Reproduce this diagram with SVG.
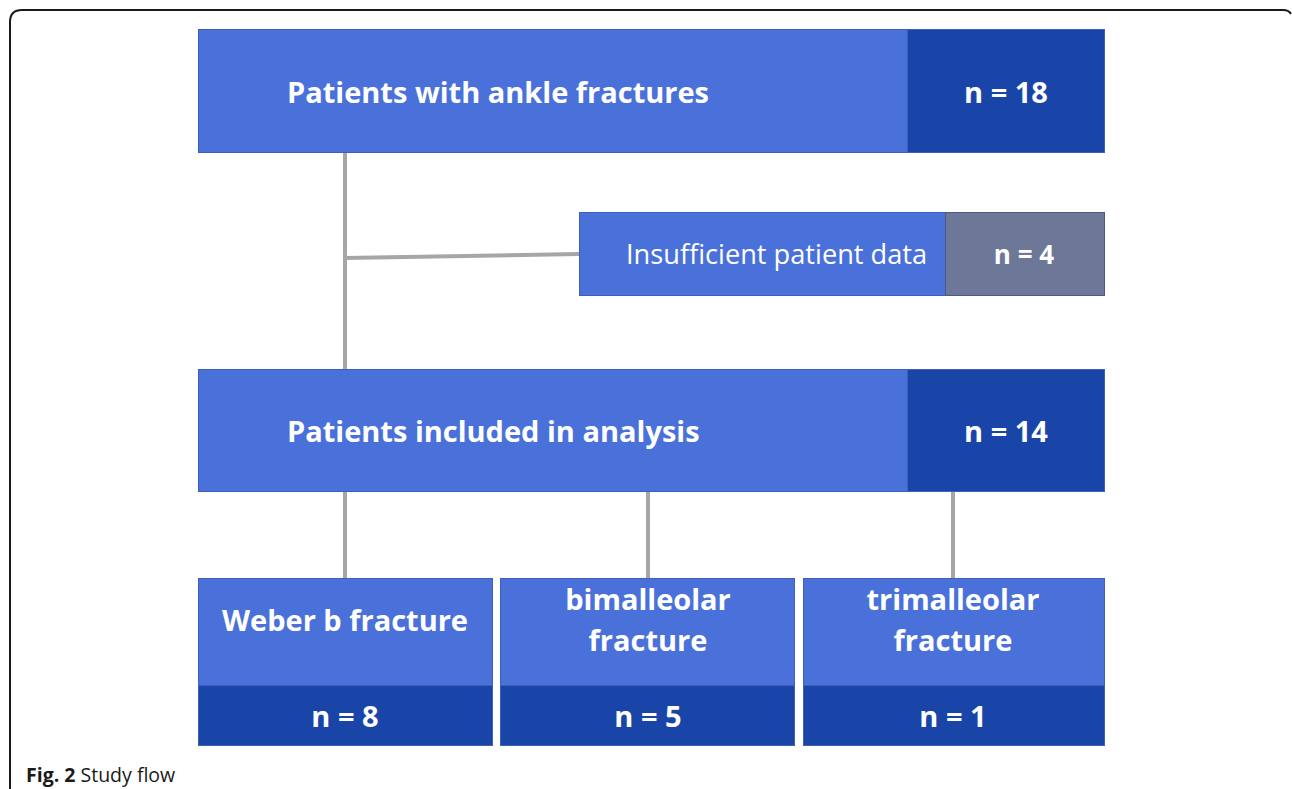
<svg xmlns="http://www.w3.org/2000/svg" width="1292" height="789" viewBox="0 0 1292 789">
<style>
.light{fill:#4a71da;stroke:#3f5fb8;stroke-width:1}
.dark{fill:#1a45a8;stroke:#3f5fb8;stroke-width:1}
.gray{fill:#6d7899;stroke:#4a5a88;stroke-width:1}
.t{font-family:"Open Sans","Liberation Sans",sans-serif;fill:#fff}
.b{font-weight:bold}
.conn{stroke:#a6a6a6;stroke-width:4;fill:none}
.cap{font-family:"Open Sans","Liberation Sans",sans-serif;fill:#1a1a1a;font-size:19.5px}
</style>
<rect width="1292" height="789" fill="#fff"/>
<path d="M10,789 V22 Q10,10 22,10 H1283 Q1289,10 1291,14" fill="none" stroke="#1a1a1a" stroke-width="2"/>
<g id="connectors">
<line class="conn" x1="345" y1="153" x2="345" y2="369"/>
<line class="conn" x1="345" y1="258" x2="579" y2="254"/>
<line class="conn" x1="345" y1="492" x2="345" y2="578"/>
<line class="conn" x1="648" y1="492" x2="648" y2="578"/>
<line class="conn" x1="953" y1="492" x2="953" y2="578"/>
</g>
<g id="node-ankle">
<rect class="light" x="198.5" y="29.5" width="709" height="123"/>
<rect class="dark" x="907.5" y="29.5" width="197" height="123"/>
<text class="t b" x="287" y="103" font-size="29">Patients with ankle fractures</text>
<text class="t b" x="1006" y="103" font-size="29" text-anchor="middle">n = 18</text>
</g>
<g id="node-insufficient">
<rect class="light" x="579.5" y="212.5" width="366" height="83"/>
<rect class="gray" x="945.5" y="212.5" width="159" height="83"/>
<text class="t" x="626" y="264" font-size="27.2">Insufficient patient data</text>
<text class="t b" x="1024" y="264" font-size="26" text-anchor="middle">n = 4</text>
</g>
<g id="node-included">
<rect class="light" x="198.5" y="369.5" width="709" height="122"/>
<rect class="dark" x="907.5" y="369.5" width="197" height="122"/>
<text class="t b" x="287" y="442" font-size="29">Patients included in analysis</text>
<text class="t b" x="1006" y="442" font-size="29" text-anchor="middle">n = 14</text>
</g>
<g id="node-weber">
<rect class="light" x="198.5" y="578.5" width="294" height="107"/>
<rect class="dark" x="198.5" y="685.5" width="294" height="60"/>
<text class="t b" x="345" y="631" font-size="29" text-anchor="middle">Weber b fracture</text>
<text class="t b" x="345" y="727" font-size="29" text-anchor="middle">n = 8</text>
</g>
<g id="node-bimalleolar">
<rect class="light" x="500.5" y="578.5" width="294" height="107"/>
<rect class="dark" x="500.5" y="685.5" width="294" height="60"/>
<text class="t b" x="648" y="610" font-size="29" text-anchor="middle">bimalleolar</text>
<text class="t b" x="648" y="651" font-size="29" text-anchor="middle">fracture</text>
<text class="t b" x="648" y="727" font-size="29" text-anchor="middle">n = 5</text>
</g>
<g id="node-trimalleolar">
<rect class="light" x="803.5" y="578.5" width="301" height="107"/>
<rect class="dark" x="803.5" y="685.5" width="301" height="60"/>
<text class="t b" x="953" y="610" font-size="29" text-anchor="middle">trimalleolar</text>
<text class="t b" x="953" y="651" font-size="29" text-anchor="middle">fracture</text>
<text class="t b" x="953" y="727" font-size="29" text-anchor="middle">n = 1</text>
</g>
<text class="cap" x="26" y="782"><tspan font-weight="bold">Fig. 2</tspan> Study flow</text>
</svg>
